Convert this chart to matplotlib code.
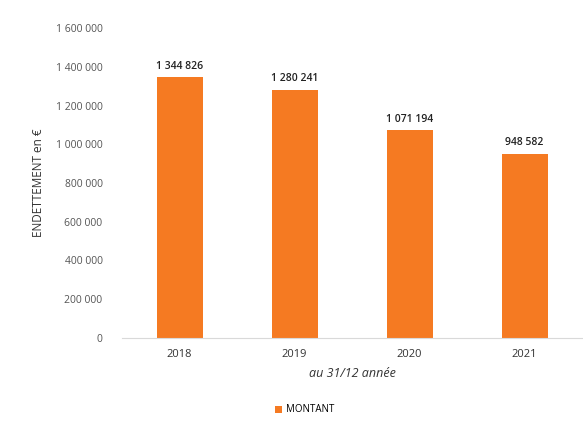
import matplotlib.pyplot as plt
from matplotlib.ticker import FuncFormatter

annees = ['2018', '2019', '2020', '2021']
montant = [1344826, 1280241, 1071194, 948582]
yticks = [0, 200000, 400000, 600000, 800000, 1000000, 1200000, 1400000, 1600000]

plt.rcParams['font.family'] = ['Open Sans', 'DejaVu Sans']


def fmt(v, pos=None):
    return '{:,.0f}'.format(v).replace(',', ' ')


fig = plt.figure(figsize=(5.83, 4.26), dpi=100)
ax = fig.add_axes([122 / 583, 1 - 338 / 426, 460 / 583, 310 / 426])

orange = '#F57A22'
bars = ax.bar(annees, montant, width=0.4, color=orange, label='MONTANT')

# valeurs au-dessus des barres
for b, v in zip(bars, montant):
    ax.text(b.get_x() + b.get_width() / 2, v + 30000, fmt(v),
            ha='center', va='bottom', fontsize=7.5, color='#222222', fontweight='semibold')

ax.set_xlim(-0.5, 3.5)
ax.set_ylim(0, 1600000)
ax.set_yticks(yticks)
ax.yaxis.set_major_formatter(FuncFormatter(fmt))
ax.tick_params(axis='y', length=0, labelsize=7.5, labelcolor='#555555', pad=14)
ax.tick_params(axis='x', length=0, labelsize=8, labelcolor='#333333', pad=8)
for s in ['top', 'right', 'left']:
    ax.spines[s].set_visible(False)
ax.spines['bottom'].set_color('#d9d9d9')

ax.set_ylabel('ENDETTEMENT en €', fontsize=8.5, color='#333333', labelpad=8)
ax.set_xlabel('au 31/12 année', fontsize=9, style='italic', color='#333333', labelpad=5)

fig.legend(handles=[bars], labels=['MONTANT'], loc='center', bbox_to_anchor=(305 / 583, 1 - 410 / 426),
           frameon=False, fontsize=7, handlelength=0.7, handleheight=0.7, handletextpad=0.4)

plt.savefig('out.png', dpi=100)
